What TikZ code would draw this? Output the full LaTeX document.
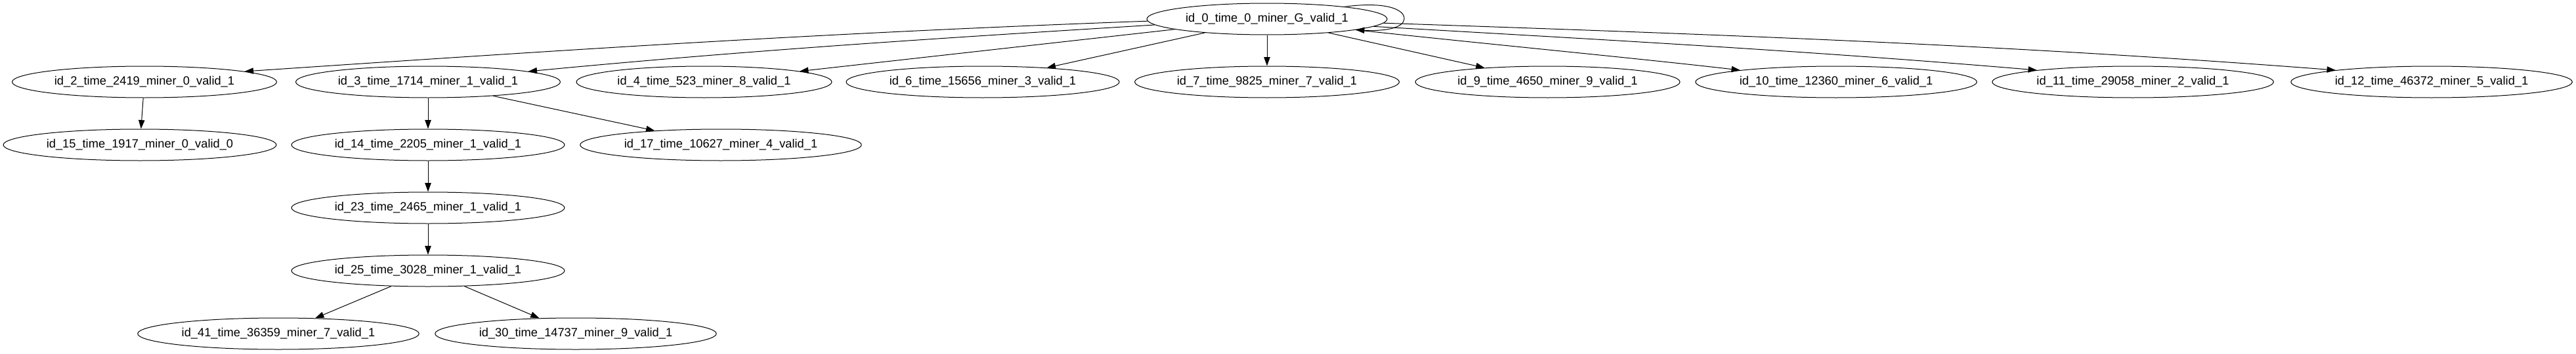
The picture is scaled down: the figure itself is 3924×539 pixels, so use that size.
\documentclass[tikz,border=0pt]{standalone}
\usepackage{fontspec}
\setmainfont{Liberation Sans}
\usetikzlibrary{shapes.geometric,arrows.meta}
\tikzset{
  nd/.style={ellipse, draw, line width=0.75pt, inner sep=0pt, minimum height=36pt,
    font=\fontsize{13.7}{16}\selectfont},
  edge/.style={line width=0.75pt, -{Triangle[length=10pt,width=7pt]}},
}
\begin{document}
\begin{tikzpicture}[x=0.75pt, y=-0.75pt]
\useasboundingbox (0,0) rectangle (3924,539);
% rank 0
\node[nd, minimum width=274.5pt] (n0) at (1930,29) {id\_0\_time\_0\_miner\_G\_valid\_1};
% rank 1
\node[nd, minimum width=302.25pt] (n2) at (220,125) {id\_2\_time\_2419\_miner\_0\_valid\_1};
\node[nd, minimum width=302.25pt] (n3) at (652,125) {id\_3\_time\_1714\_miner\_1\_valid\_1};
\node[nd, minimum width=291.75pt] (n4) at (1072.5,125) {id\_4\_time\_523\_miner\_8\_valid\_1};
\node[nd, minimum width=312pt] (n6) at (1497,125) {id\_6\_time\_15656\_miner\_3\_valid\_1};
\node[nd, minimum width=302.25pt] (n7) at (1930,125) {id\_7\_time\_9825\_miner\_7\_valid\_1};
\node[nd, minimum width=302.25pt] (n9) at (2357.5,125) {id\_9\_time\_4650\_miner\_9\_valid\_1};
\node[nd, minimum width=321.4pt] (n10) at (2797,125) {id\_10\_time\_12360\_miner\_6\_valid\_1};
\node[nd, minimum width=321.4pt] (n11) at (3249,125) {id\_11\_time\_29058\_miner\_2\_valid\_1};
\node[nd, minimum width=321.4pt] (n12) at (3704,125) {id\_12\_time\_46372\_miner\_5\_valid\_1};
% rank 2
\node[nd, minimum width=312pt] (n15) at (213,221) {id\_15\_time\_1917\_miner\_0\_valid\_0};
\node[nd, minimum width=312pt] (n14) at (652,221) {id\_14\_time\_2205\_miner\_1\_valid\_1};
\node[nd, minimum width=321.4pt] (n17) at (1098,221) {id\_17\_time\_10627\_miner\_4\_valid\_1};
% rank 3-5
\node[nd, minimum width=312pt] (n23) at (652,317) {id\_23\_time\_2465\_miner\_1\_valid\_1};
\node[nd, minimum width=312pt] (n25) at (652,413) {id\_25\_time\_3028\_miner\_1\_valid\_1};
\node[nd, minimum width=321.4pt] (n41) at (424,509) {id\_41\_time\_36359\_miner\_7\_valid\_1};
\node[nd, minimum width=321.4pt] (n30) at (877,509) {id\_30\_time\_14737\_miner\_9\_valid\_1};
% edges from root
\draw[edge] (n0.181.9) .. controls (1247,50.5) and (863,76) .. (n2.6.8);
\draw[edge] (n0.183) .. controls (1408,59.7) and (1145,76.5) .. (n3.6.8);
\draw[edge] (n0) -- (n4);
\draw[edge] (n0) -- (n6);
\draw[edge] (n0) -- (n7);
\draw[edge] (n0) -- (n9);
\draw[edge] (n0.-7.4) .. controls (2260,66.7) and (2490,88.5) .. (n10.173.8);
\draw[edge] (n0.-4.6) .. controls (2436,60.4) and (2742,76.5) .. (n11.173.8);
\draw[edge] (n0.-2.7) .. controls (2600,52) and (3052,68) .. (n12.173.6);
% self loop
\coordinate (loopR) at (2139,29);
\draw[edge] (n0.9.2) .. controls (2110,2) and (2140,14) .. (loopR) .. controls (2138,42) and (2112,48) .. (n0.-7.5);
% lower edges
\draw[edge] (n2) -- (n15);
\draw[edge] (n3) -- (n14);
\draw[edge] (n3) -- (n17);
\draw[edge] (n14) -- (n23);
\draw[edge] (n23) -- (n25);
\draw[edge] (n25) -- (n41);
\draw[edge] (n25) -- (n30);
\end{tikzpicture}
\end{document}
